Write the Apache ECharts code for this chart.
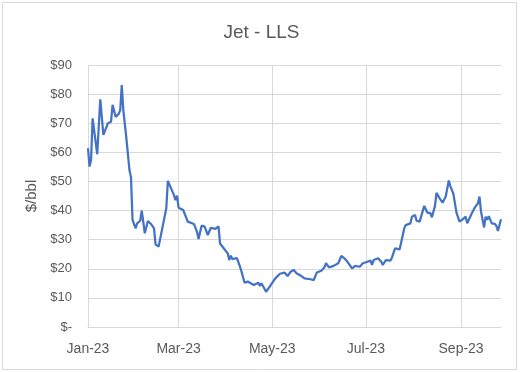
<!DOCTYPE html>
<html><head><meta charset="utf-8">
<script src="https://cdn.jsdelivr.net/npm/echarts@6/dist/echarts.min.js"></script>
<style>html,body{margin:0;padding:0;background:#fff}#c{width:523px;height:372px}</style>
</head><body><div id="c"></div>
<script>
// Trading dates and Jet - LLS spread ($/bbl)
const dates = [
'2023-01-03','2023-01-04','2023-01-05','2023-01-06','2023-01-09','2023-01-11','2023-01-13','2023-01-16','2023-01-18','2023-01-19',
'2023-01-21','2023-01-23','2023-01-24','2023-01-25','2023-01-26','2023-01-28','2023-01-30','2023-01-31','2023-02-01','2023-02-03',
'2023-02-04','2023-02-06','2023-02-07','2023-02-09','2023-02-11','2023-02-13','2023-02-15','2023-02-16','2023-02-18','2023-02-23',
'2023-02-24','2023-02-28','2023-03-01','2023-03-02','2023-03-03','2023-03-06','2023-03-07','2023-03-09','2023-03-13','2023-03-15',
'2023-03-16','2023-03-18','2023-03-20','2023-03-22','2023-03-24','2023-03-27','2023-03-29','2023-03-30','2023-04-01','2023-04-04',
'2023-04-05','2023-04-06','2023-04-07','2023-04-10','2023-04-12','2023-04-13','2023-04-15','2023-04-17','2023-04-19','2023-04-21',
'2023-04-24','2023-04-25','2023-04-26','2023-04-29','2023-05-02','2023-05-05','2023-05-08','2023-05-11','2023-05-13','2023-05-15',
'2023-05-17','2023-05-18','2023-05-19','2023-05-22','2023-05-24','2023-05-25','2023-05-28','2023-05-30','2023-06-01','2023-06-04',
'2023-06-06','2023-06-07','2023-06-09','2023-06-12','2023-06-15','2023-06-17','2023-06-19','2023-06-21','2023-06-22','2023-06-24',
'2023-06-26','2023-06-29','2023-07-01','2023-07-04','2023-07-06','2023-07-07','2023-07-08','2023-07-11','2023-07-13','2023-07-14',
'2023-07-16','2023-07-19','2023-07-20','2023-07-22','2023-07-25','2023-07-28','2023-07-29','2023-08-01','2023-08-02','2023-08-04',
'2023-08-05','2023-08-07','2023-08-10','2023-08-12','2023-08-14','2023-08-15','2023-08-17','2023-08-18','2023-08-20','2023-08-22',
'2023-08-24','2023-08-26','2023-08-27','2023-08-29','2023-08-31','2023-09-01','2023-09-02','2023-09-04','2023-09-06','2023-09-07',
'2023-09-10','2023-09-12','2023-09-14','2023-09-15','2023-09-16','2023-09-18','2023-09-19','2023-09-20','2023-09-21','2023-09-23',
'2023-09-25','2023-09-26','2023-09-27','2023-09-29'
];
const values = [
61.4,55.1,57.4,71.7,59.4,78.2,66.0,70.0,70.5,76.3,
72.2,73.2,74.5,83.1,74.5,64.8,53.9,51.4,36.8,33.9,
35.6,36.5,40.0,32.2,36.4,35.4,33.9,28.4,27.6,40.8,
50.2,45.3,43.6,45.1,41.0,40.2,40.0,36.2,35.4,32.7,
30.2,34.8,34.5,31.6,34.1,33.7,34.6,28.7,27.3,25.3,
23.0,24.5,23.3,23.7,20.7,19.0,15.2,15.6,15.0,14.4,
15.2,14.1,15.0,12.1,14.4,16.7,18.3,18.7,17.5,19.0,
19.6,19.3,18.4,17.5,16.7,16.7,16.4,16.1,18.7,19.3,
20.5,21.9,20.5,21.0,21.9,24.4,23.6,22.4,23.0,20.1,
21.0,20.7,21.9,22.4,22.8,21.3,23.0,23.6,22.4,21.3,
23.0,22.8,23.9,27.0,26.7,33.9,35.0,35.6,37.9,38.5,
36.5,36.2,41.6,39.3,39.1,37.7,41.6,46.1,44.2,42.7,
44.8,50.3,48.4,45.7,39.3,39.1,36.2,37.0,37.9,35.6,
39.1,41.1,42.5,44.8,39.6,34.2,37.9,36.8,38.1,35.6,
35.4,34.7,33.0,37.0
];
const axisStart = '2023-01-03';
const axisEnd = '2023-09-29';
const tickDates = ['2023-01-03','2023-03-03','2023-05-03','2023-07-03','2023-09-03'];
const tickLabels = ['Jan-23','Mar-23','May-23','Jul-23','Sep-23'];
const yMin = 0, yMax = 90, yStep = 10;

function buildDays(s, e) {
  const out = [];
  let t = Date.parse(s + 'T00:00:00Z');
  const end = Date.parse(e + 'T00:00:00Z');
  while (t <= end) { out.push(new Date(t).toISOString().slice(0, 10)); t += 86400000; }
  return out;
}
const days = buildDays(axisStart, axisEnd);
const tickSet = new Set(tickDates);
const seriesData = dates.map((d, i) => [d, values[i]]);

const chart = echarts.init(document.getElementById('c'), null, {renderer: 'canvas'});
const txt = '#595959', grid = '#d9d9d9', font = 'Liberation Sans, Arial, sans-serif';
chart.setOption({
  animation: false,
  backgroundColor: '#fff',
  title: {
    text: 'Jet - LLS', left: 'center', top: 18,
    textStyle: {fontFamily: font, fontSize: 19, fontWeight: 'normal', color: txt}
  },
  graphic: [{
    type: 'rect', silent: true,
    shape: {x: 2.5, y: 2.5, width: 514, height: 367},
    style: {fill: 'none', stroke: grid, lineWidth: 1}
  }],
  grid: {left: 88, right: 22, top: 65, bottom: 45},
  xAxis: {
    type: 'category', data: days, boundaryGap: false,
    axisLine: {show: true, lineStyle: {color: grid, width: 1}},
    axisTick: {show: false},
    axisLabel: {
      interval: (i, v) => tickSet.has(v),
      formatter: v => tickLabels[tickDates.indexOf(v)],
      color: txt, fontSize: 14, fontFamily: font, margin: 15
    },
    splitLine: {show: true, interval: (i, v) => tickSet.has(v), lineStyle: {color: grid, width: 1}}
  },
  yAxis: {
    type: 'value', min: yMin, max: yMax, interval: yStep,
    name: '$/bbl', nameLocation: 'middle', nameGap: 48, nameRotate: 90,
    nameTextStyle: {color: txt, fontSize: 15, fontFamily: font},
    axisLine: {show: false},
    axisTick: {show: false},
    axisLabel: {
      formatter: v => v === 0 ? '$-' : '$' + v,
      color: txt, fontSize: 13, fontFamily: font, margin: 16
    },
    splitLine: {show: true, lineStyle: {color: grid, width: 1}}
  },
  series: [{
    type: 'line', data: seriesData, showSymbol: false, symbol: 'none',
    lineStyle: {color: '#4472C4', width: 2.25}, itemStyle: {color: '#4472C4'}
  }]
});
</script>
</body></html>
